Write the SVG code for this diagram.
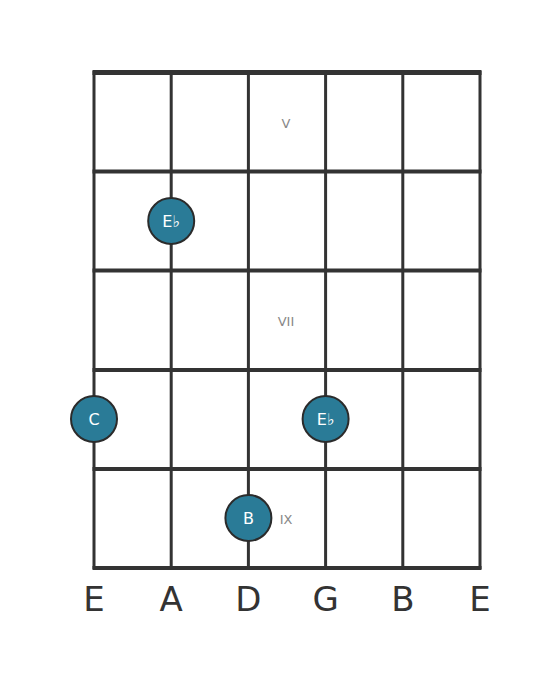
<svg xmlns="http://www.w3.org/2000/svg" width="560" height="682" viewBox="0 0 560 682">
<style>
.fret{stroke:#333;stroke-width:4;}
.str{stroke:#333;stroke-width:3;}
.dot{fill:#2a7b97;stroke:#2b2b2b;stroke-width:2;}
.note{font-family:"DejaVu Sans",sans-serif;font-size:16px;fill:#fff;text-anchor:middle;}
.pos{font-family:"DejaVu Sans",sans-serif;font-size:13px;fill:#888;text-anchor:middle;}
.sname{font-family:"DejaVu Sans",sans-serif;font-size:34px;fill:#333;text-anchor:middle;}
</style>
<rect width="560" height="682" fill="#fff"/>
<g id="connectors">
<line class="str" x1="94" y1="71" x2="94" y2="569"/>
<line class="str" x1="171.2" y1="71" x2="171.2" y2="569"/>
<line class="str" x1="248.4" y1="71" x2="248.4" y2="569"/>
<line class="str" x1="325.6" y1="71" x2="325.6" y2="569"/>
<line class="str" x1="402.8" y1="71" x2="402.8" y2="569"/>
<line class="str" x1="480" y1="71" x2="480" y2="569"/>
<line class="fret" x1="92.5" y1="72.5" x2="481.5" y2="72.5" style="stroke-width:5"/>
<line class="fret" x1="92.5" y1="171.5" x2="481.5" y2="171.5"/>
<line class="fret" x1="92.5" y1="270.5" x2="481.5" y2="270.5"/>
<line class="fret" x1="92.5" y1="370" x2="481.5" y2="370"/>
<line class="fret" x1="92.5" y1="469" x2="481.5" y2="469"/>
<line class="fret" x1="92.5" y1="568" x2="481.5" y2="568"/>
</g>
<g id="labels">
<text class="pos" x="286" y="128">V</text>
<text class="pos" x="286" y="326">VII</text>
<text class="pos" x="286" y="524">IX</text>
</g>
<g id="n1"><circle class="dot" cx="171.2" cy="221" r="23"/><text class="note" x="171.2" y="227">E♭</text></g>
<g id="n2"><circle class="dot" cx="94" cy="419" r="23"/><text class="note" x="94" y="425">C</text></g>
<g id="n3"><circle class="dot" cx="325.6" cy="419" r="23"/><text class="note" x="325.6" y="425">E♭</text></g>
<g id="n4"><circle class="dot" cx="248.4" cy="518" r="23"/><text class="note" x="248.4" y="524">B</text></g>
<g id="strings">
<text class="sname" x="94" y="611">E</text>
<text class="sname" x="171.2" y="611">A</text>
<text class="sname" x="248.4" y="611">D</text>
<text class="sname" x="325.6" y="611">G</text>
<text class="sname" x="402.8" y="611">B</text>
<text class="sname" x="480" y="611">E</text>
</g>
</svg>
